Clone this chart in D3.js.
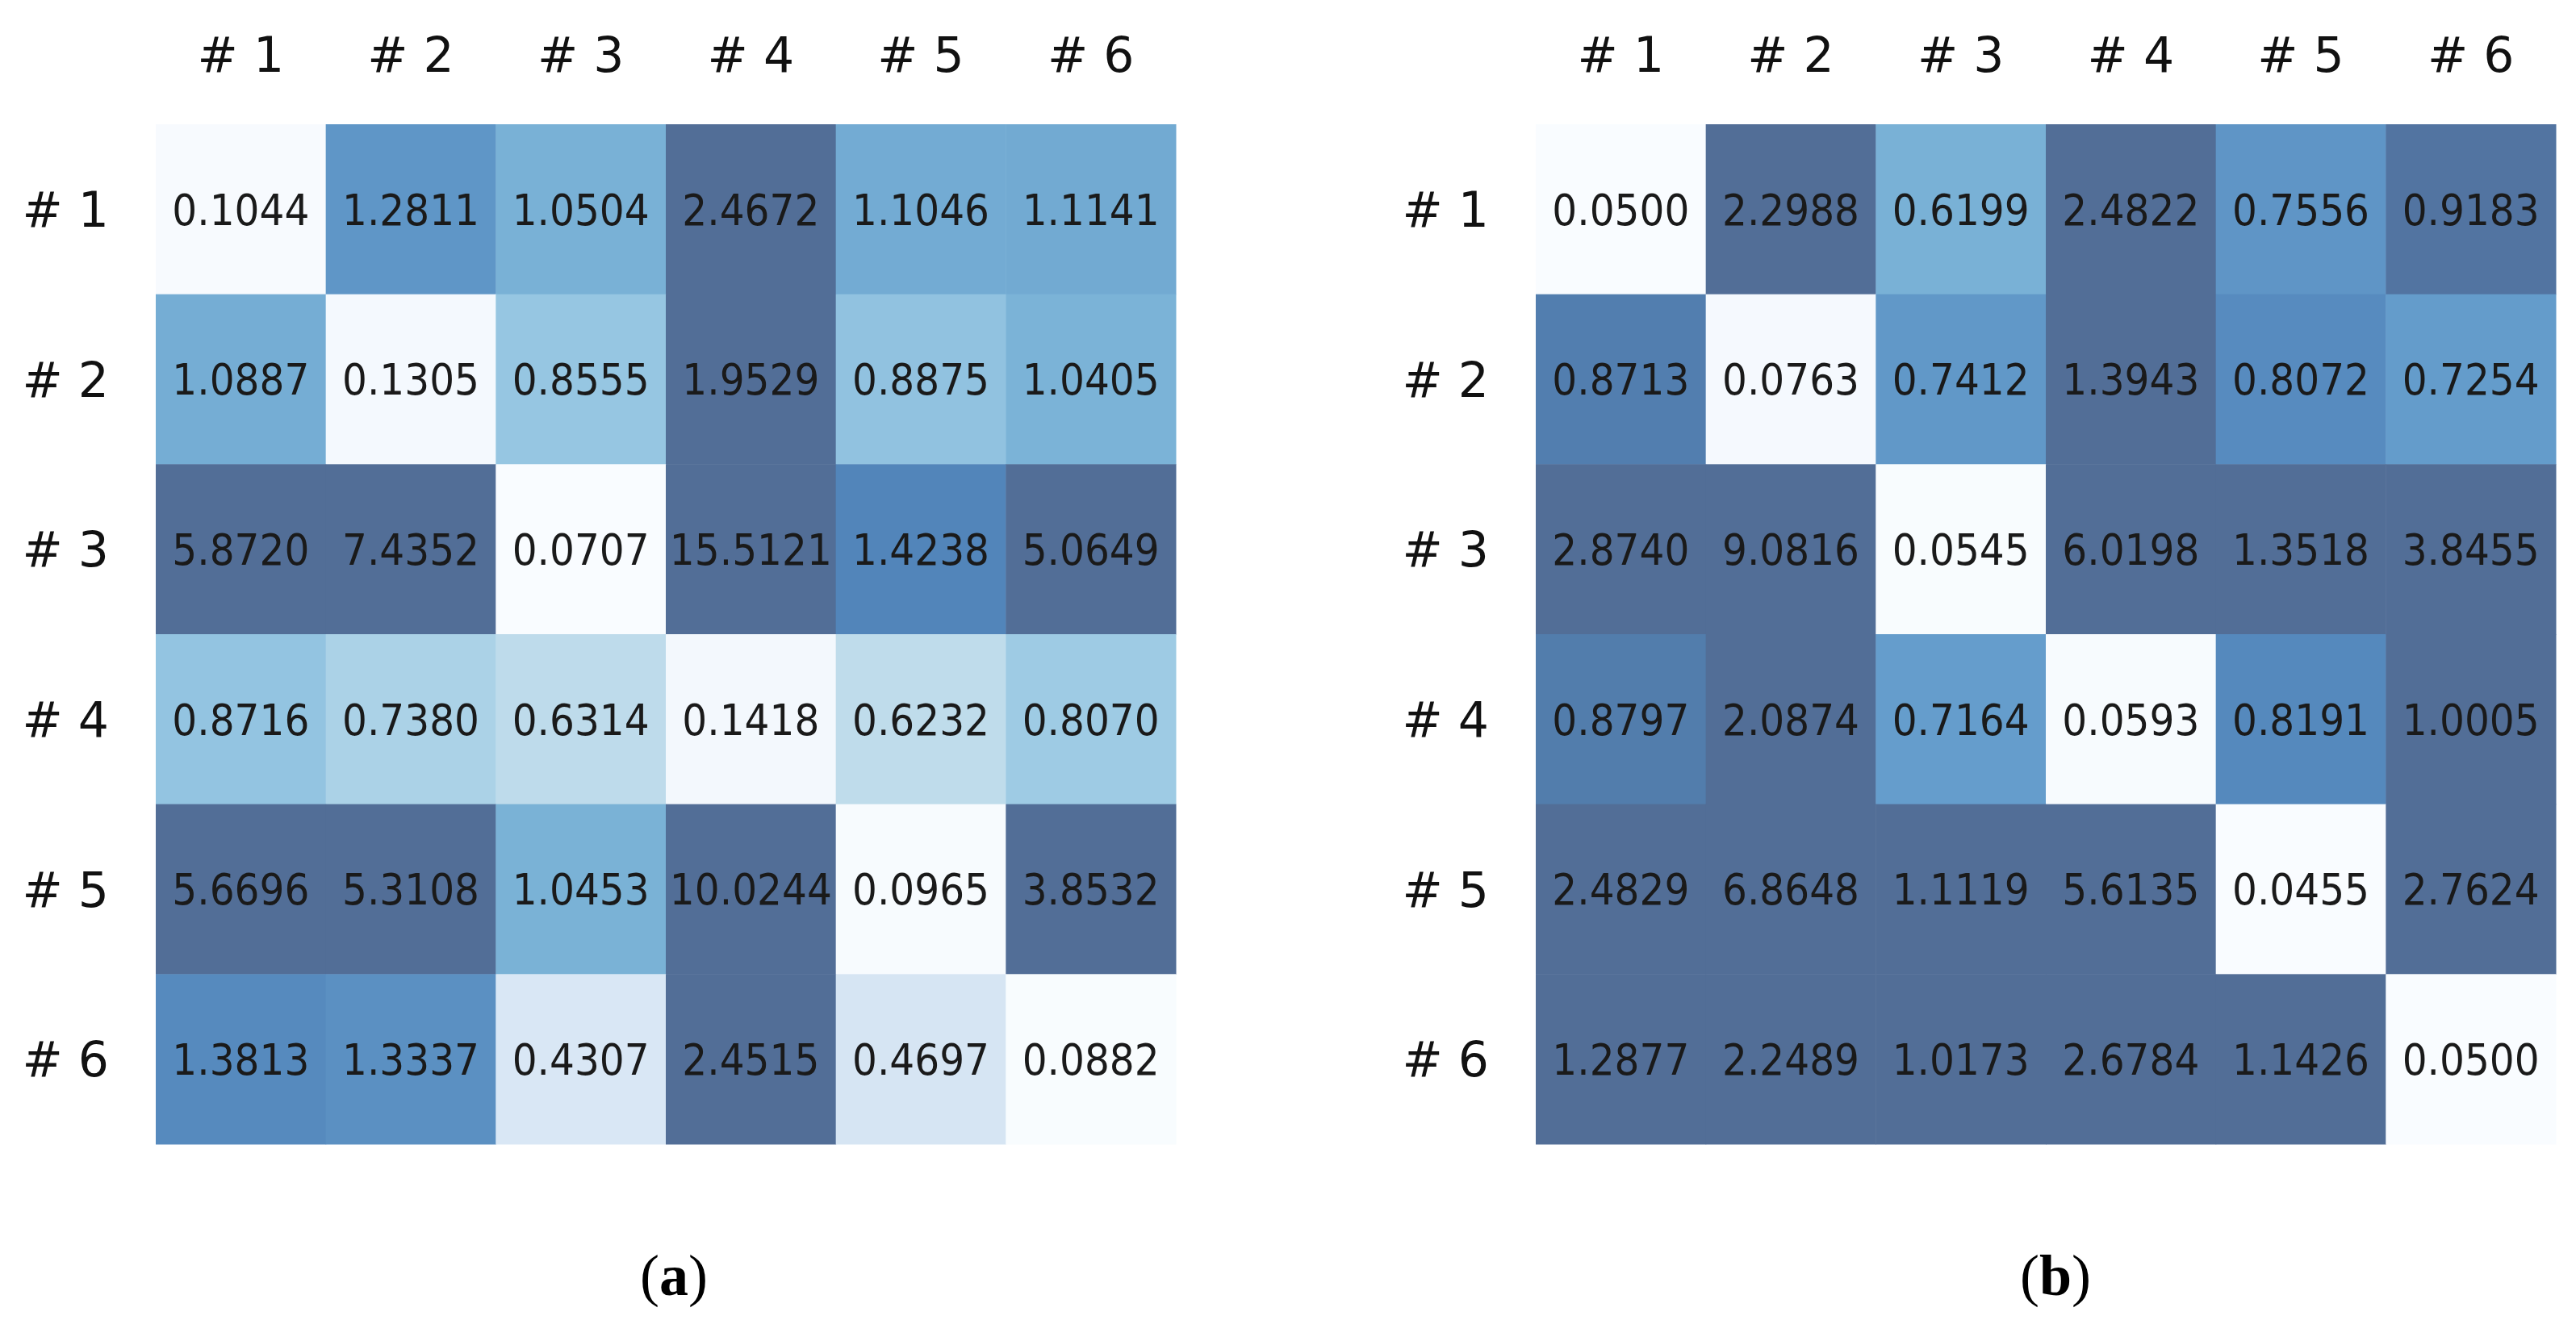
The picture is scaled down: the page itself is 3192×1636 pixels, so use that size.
<!DOCTYPE html>
<html>
<head>
<meta charset="utf-8">
<script src="https://cdn.jsdelivr.net/npm/d3@7"></script>
<style>
  body { margin: 0; background: #fff; }
  svg { display: block; }
</style>
</head>
<body>
<svg></svg>
<script>
// labels for both heatmaps
const rowLabels = ["# 1", "# 2", "# 3", "# 4", "# 5", "# 6"];
const colLabels = ["# 1", "# 2", "# 3", "# 4", "# 5", "# 6"];

// panel (a) values, row by row
const valuesA = [
  [0.1044, 1.2811, 1.0504, 2.4672, 1.1046, 1.1141],
  [1.0887, 0.1305, 0.8555, 1.9529, 0.8875, 1.0405],
  [5.872, 7.4352, 0.0707, 15.5121, 1.4238, 5.0649],
  [0.8716, 0.738, 0.6314, 0.1418, 0.6232, 0.807],
  [5.6696, 5.3108, 1.0453, 10.0244, 0.0965, 3.8532],
  [1.3813, 1.3337, 0.4307, 2.4515, 0.4697, 0.0882],
];

// panel (b) values, row by row
const valuesB = [
  [0.05, 2.2988, 0.6199, 2.4822, 0.7556, 0.9183],
  [0.8713, 0.0763, 0.7412, 1.3943, 0.8072, 0.7254],
  [2.874, 9.0816, 0.0545, 6.0198, 1.3518, 3.8455],
  [0.8797, 2.0874, 0.7164, 0.0593, 0.8191, 1.0005],
  [2.4829, 6.8648, 1.1119, 5.6135, 0.0455, 2.7624],
  [1.2877, 2.2489, 1.0173, 2.6784, 1.1426, 0.05],
];

const captions = ["a", "b"];

// svg size
const width = 3192;
const height = 1636;

// matplotlib "Blues" stops
const blues = ["#f7fbff", "#deebf7", "#c6dbef", "#9ecae1", "#6baed6",
  "#4292c6", "#2171b5", "#08519c", "#08306b"];

const svg = d3.select("svg").attr("width", width).attr("height", height);

const panels = [
  { data: valuesA, left: 193, vmin: 0.0707, vmax: 1.62, capX: 835 },
  { data: valuesB, left: 1903, vmin: 0.0455, vmax: 0.95, capX: 2547 },
];

const gridTop = 154;
const gridSize = 1264;

const drawPanel = (p, idx) => {
  const g = svg.append("g");

  const xScale = d3.scaleBand().domain(colLabels)
    .range([p.left, p.left + gridSize]);
  const yScale = d3.scaleBand().domain(rowLabels)
    .range([gridTop, gridTop + gridSize]);

  const colorScale = d3.scaleLinear()
    .domain(blues.map((c, i) => p.vmin + (p.vmax - p.vmin) * i / (blues.length - 1)))
    .range(blues)
    .interpolate(d3.interpolateRgb)
    .clamp(true);

  // cmap drawn with alpha 0.7 on white, blended here so overlaps don't show
  const cellColor = (v) => d3.interpolateRgb("#ffffff", colorScale(v))(0.7);

  const cells = [];
  p.data.forEach((row, r) => {
    row.forEach((v, c) => {
      cells.push({ row: rowLabels[r], col: colLabels[c], value: v });
    });
  });

  g.selectAll("rect")
    .data(cells)
    .enter()
    .append("rect")
    .attr("x", (d) => xScale(d.col))
    .attr("y", (d) => yScale(d.row))
    .attr("width", xScale.bandwidth() + 0.5)
    .attr("height", yScale.bandwidth() + 0.5)
    .attr("fill", (d) => cellColor(d.value));

  g.selectAll("text.val")
    .data(cells)
    .enter()
    .append("text")
    .attr("class", "val")
    .attr("transform", (d) =>
      "translate(" + (xScale(d.col) + xScale.bandwidth() / 2) + "," +
      (yScale(d.row) + yScale.bandwidth() / 2) + ") scale(0.9,1)")
    .attr("text-anchor", "middle")
    .attr("dy", "0.36em")
    .style("font-family", "DejaVu Sans")
    .style("font-size", "54px")
    .style("fill", "#1a1a1a")
    .text((d) => d.value.toFixed(4));

  // axes without lines
  const xAxis = d3.axisTop(xScale).tickSize(0).tickPadding(65);
  const xg = g.append("g")
    .attr("transform", "translate(0," + gridTop + ")")
    .call(xAxis);

  const yAxis = d3.axisLeft(yScale).tickSize(0).tickPadding(58);
  const yg = g.append("g")
    .attr("transform", "translate(" + p.left + ",0)")
    .call(yAxis);

  [xg, yg].forEach((ag) => {
    ag.select(".domain").remove();
    ag.selectAll("text")
      .style("font-family", "DejaVu Sans")
      .style("font-size", "60px")
      .style("fill", "#111");
  });
  xg.selectAll("text").attr("dy", "0em");
  yg.selectAll("text").attr("dy", "0.36em");

  // caption (a) / (b)
  const cap = svg.append("text")
    .attr("x", p.capX)
    .attr("y", 1605)
    .attr("text-anchor", "middle")
    .style("font-family", "Liberation Serif")
    .style("font-size", "72px")
    .style("fill", "#000");
  cap.append("tspan").text("(");
  cap.append("tspan").style("font-weight", "bold").text(captions[idx]);
  cap.append("tspan").text(")");
};

panels.forEach(drawPanel);
</script>
</body>
</html>
